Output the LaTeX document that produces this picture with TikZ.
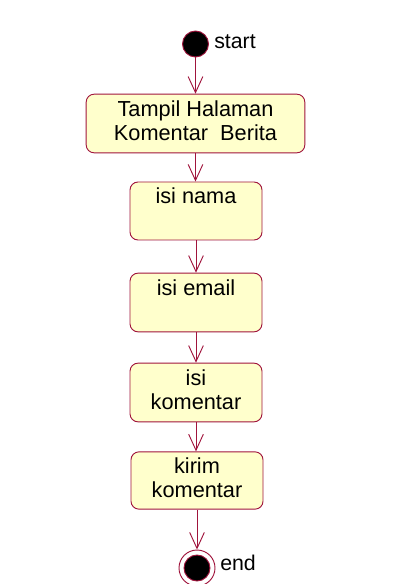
\documentclass[tikz,border=0pt]{standalone}
\usepackage{fontspec}
\setmainfont{Liberation Sans}
\usepackage{xcolor}
\usetikzlibrary{arrows.meta}
\definecolor{umlline}{RGB}{160,20,60}
\definecolor{umlfill}{RGB}{255,255,204}
\tikzset{
  activity/.style={draw=umlline,fill=umlfill,line width=0.7pt,rounded corners=6pt,align=center,inner sep=0pt,text depth=4.5pt,font=\fontsize{16.3}{18.5}\selectfont},
  flow/.style={draw=umlline,line width=0.7pt,-{Straight Barb[length=12pt,width=11pt,line width=0.7pt]}},
  caption/.style={anchor=west,font=\fontsize{16}{18}\selectfont,inner sep=0pt}
}
\begin{document}
\begin{tikzpicture}[x=0.75pt,y=-0.75pt]
\useasboundingbox (0,0) rectangle (407,584);
\node[circle,draw=umlline,fill=black,line width=0.7pt,minimum size=19.5pt,inner sep=0pt] (start) at (195.5,44) {};
\node[caption] (startlabel) at (214,42) {start};
\node[activity,minimum width=164pt,minimum height=44pt] (tampil) at (195.5,123.5) {Tampil Halaman\\Komentar~ Berita};
\node[activity,minimum width=99pt,minimum height=43.5pt] (nama) at (196,211) {isi nama\\\mbox{}};
\node[activity,minimum width=99pt,minimum height=44pt] (email) at (196,302.5) {isi email\\\mbox{}};
\node[activity,minimum width=99pt,minimum height=44pt] (komentar) at (196,392.5) {isi\\komentar};
\node[activity,minimum width=99pt,minimum height=43pt] (kirim) at (197,480.5) {kirim\\komentar};
\node[circle,draw=umlline,fill=white,line width=0.7pt,minimum size=27pt,inner sep=0pt] (end) at (197,568) {};
\node[circle,draw=umlline,fill=black,line width=0.7pt,minimum size=19.5pt,inner sep=0pt] (endcore) at (end.center) {};
\node[caption] (endlabel) at (220,563) {end};
\draw[flow] (start) -- (tampil);
\draw[flow] (tampil) -- (tampil |- nama.north);
\draw[flow] (nama.south) -- (email.north);
\draw[flow] (email.south) -- (komentar.north);
\draw[flow] (komentar.south) -- (kirim.north -| komentar.south);
\draw[flow] (kirim.south) -- (end.north -| kirim.south);
\end{tikzpicture}
\end{document}
